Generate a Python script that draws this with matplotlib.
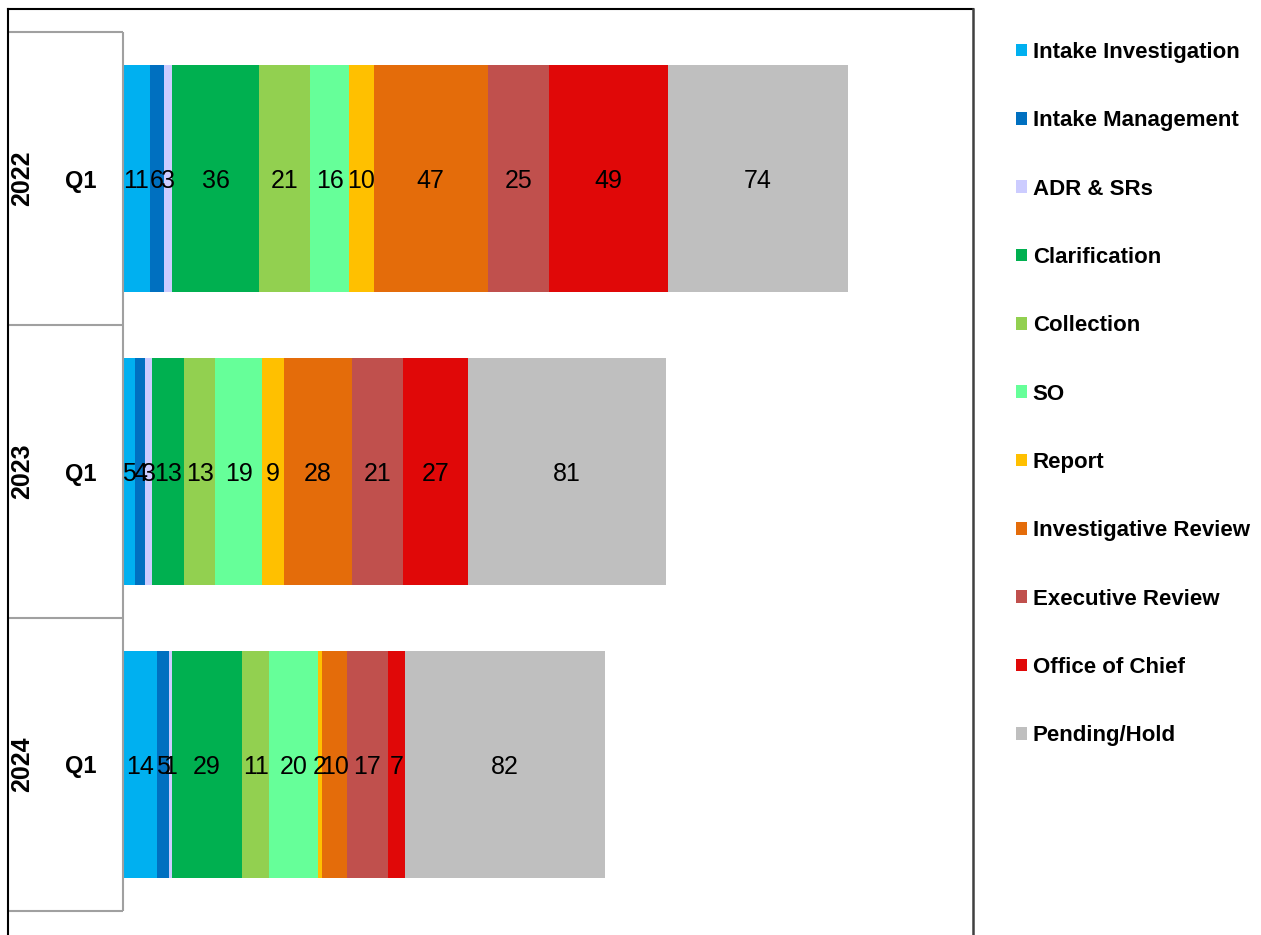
import numpy as np
import matplotlib
matplotlib.use("Agg")
import matplotlib.pyplot as plt
from matplotlib.lines import Line2D
from matplotlib.patches import Patch

plt.rcParams['font.family'] = ['Liberation Sans', 'DejaVu Sans']

# data
years = ['2022', '2023', '2024']
quarters = ['Q1', 'Q1', 'Q1']
stages = ['Intake Investigation', 'Intake Management', 'ADR & SRs',
          'Clarification', 'Collection', 'SO', 'Report',
          'Investigative Review', 'Executive Review', 'Office of Chief',
          'Pending/Hold']
colors = ['#00B0F0', '#0070C0', '#CCCCFF', '#00B050', '#92D050', '#66FF99',
          '#FFC000', '#E46C0A', '#C0504D', '#E00808', '#BFBFBF']
counts_2022 = [11, 6, 3, 36, 21, 16, 10, 47, 25, 49, 74]
counts_2023 = [5, 4, 3, 13, 13, 19, 9, 28, 21, 27, 81]
counts_2024 = [14, 5, 1, 29, 11, 20, 2, 10, 17, 7, 82]

counts = np.array([counts_2022, counts_2023, counts_2024])

W, H = 1261, 935
fig = plt.figure(figsize=(W / 100, H / 100), dpi=100)
ax = fig.add_axes([123 / W, 1 - 911 / H, 850 / W, 879 / H])

ypos = np.arange(len(years))
left = np.zeros(len(years))
for i, stage in enumerate(stages):
    bars = ax.barh(ypos, counts[:, i], left=left, height=0.775,
                   color=colors[i], label=stage)
    labels = ax.bar_label(bars, label_type='center', fontsize=18, color='black')
    for t in labels:
        t.set_va('center_baseline')
    left += counts[:, i]

ax.set_xlim(0, 349.4)
ax.set_ylim(2.5, -0.5)
ax.set_xticks([])
ax.set_yticks([])
for sp in ax.spines.values():
    sp.set_visible(False)

# category axis: boxes with year / quarter labels
trans = ax.get_yaxis_transform()
x0 = -115 / 850
ax.hlines([-0.5, 0.5, 1.5, 2.5], x0, 0, transform=trans, color='#A0A0A0',
          lw=1.5, clip_on=False)
ax.vlines(0, -0.5, 2.5, transform=trans, color='#A0A0A0', lw=1.5,
          clip_on=False)
for y, yr, q in zip(ypos, years, quarters):
    ax.text(-101 / 850, y, yr, transform=trans, rotation=90, ha='center',
            va='center', fontsize=18, fontweight='bold')
    ax.text(-42 / 850, y, q, transform=trans, ha='center',
            va='center_baseline', fontsize=17, fontweight='bold')

# outer frame
fx = lambda px: px / W
fy = lambda py: 1 - py / H
fig.add_artist(Line2D([fx(8), fx(973)], [fy(9), fy(9)], color='black', lw=1.5))
fig.add_artist(Line2D([fx(8), fx(8)], [fy(9), 0], color='black', lw=1.5))
fig.add_artist(Line2D([fx(973), fx(973)], [fy(9), 0], color='#404040', lw=1.8))

handles = [Patch(facecolor=c, edgecolor='none') for c in colors]
fig.legend(handles, stages, loc='upper left', bbox_to_anchor=(fx(1016), fy(42)),
           frameon=False, prop={'weight': 'bold', 'size': 16},
           handlelength=0.5, handleheight=0.5, handletextpad=0.25,
           labelspacing=2.13, borderaxespad=0, borderpad=0)

fig.savefig('out.png', dpi=100)
